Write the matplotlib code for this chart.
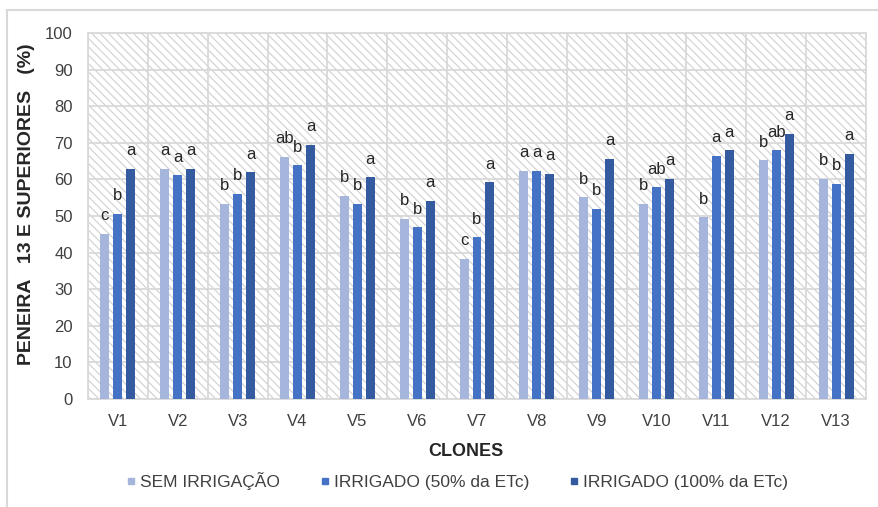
import numpy as np
import matplotlib
matplotlib.use("Agg")
import matplotlib.pyplot as plt
from matplotlib.patches import Rectangle
from matplotlib.lines import Line2D

plt.rcParams["font.family"] = ["Liberation Sans", "DejaVu Sans"]
plt.rcParams["hatch.linewidth"] = 0.8

clones = ["V1", "V2", "V3", "V4", "V5", "V6", "V7", "V8", "V9", "V10", "V11", "V12", "V13"]
series_names = ["SEM IRRIGAÇÃO", "IRRIGADO (50% da ETc)", "IRRIGADO (100% da ETc)"]

sem_irrigacao = [45.1, 62.9, 53.4, 66.2, 55.6, 49.2, 38.3, 62.4, 55.1, 53.3, 49.7, 65.2, 60.2]
irrigado_50 = [50.6, 61.2, 56.1, 63.9, 53.4, 46.9, 44.2, 62.4, 52.0, 57.9, 66.5, 67.9, 58.8]
irrigado_100 = [62.9, 62.9, 62.0, 69.4, 60.6, 54.2, 59.2, 61.5, 65.6, 60.2, 67.9, 72.5, 67.0]

letras_sem = ["c", "a", "b", "ab", "b", "b", "c", "a", "b", "b", "b", "b", "b"]
letras_50 = ["b", "a", "b", "b", "b", "b", "b", "a", "b", "ab", "a", "ab", "b"]
letras_100 = ["a", "a", "a", "a", "a", "a", "a", "a", "a", "a", "a", "a", "a"]

yticks = list(range(0, 101, 10))

colors = ["#A6B5DC", "#4472C4", "#345A9F"]
grid_color = "#D9D9D9"
text_color = "#404040"

W, H = 879, 507
fig = plt.figure(figsize=(W / 100, H / 100), dpi=100)

# outer chart frame
fig.patches.append(Rectangle((7 / W, -0.1), 1.2, 1 - 10 / H + 0.1, transform=fig.transFigure,
                             fill=False, edgecolor=grid_color, linewidth=1.5, zorder=0))

left, right, top, bottom = 88, 866, 33, 399
ax = fig.add_axes([left / W, 1 - bottom / H, (right - left) / W, (bottom - top) / H])

# hatched plot-area background
ax.add_patch(Rectangle((0, 0), 1, 1, transform=ax.transAxes, facecolor="white",
                       edgecolor="#D0D0D0", hatch="\\\\\\\\", linewidth=0, zorder=0.1))

x = np.arange(len(clones))
offset, width = 0.217, 0.15
series = [sem_irrigacao, irrigado_50, irrigado_100]
letters = [letras_sem, letras_50, letras_100]
for i, (vals, lets) in enumerate(zip(series, letters)):
    xs = x + (i - 1) * offset
    ax.bar(xs, vals, width=width, color=colors[i], zorder=3)
    for xi, v, t in zip(xs, vals, lets):
        ax.annotate(t, (xi, v), xytext=(0, 18), textcoords="offset pixels",
                    ha="center", va="center", fontsize=12, color="#262626", zorder=4)

ax.set_xlim(-0.5, len(clones) - 0.5)
ax.set_ylim(0, 100)
ax.set_yticks(yticks)
ax.set_xticks(x)
ax.set_xticklabels(clones)
ax.set_xticks(np.arange(-0.5, len(clones)), minor=True)
ax.tick_params(axis="both", which="both", length=0, labelsize=12, colors=text_color)
ax.tick_params(axis="y", pad=11)
ax.tick_params(axis="x", pad=11)
ax.set_axisbelow(True)
ax.grid(axis="y", which="major", color=grid_color, linewidth=1.3, zorder=0.5)
ax.grid(axis="x", which="minor", color=grid_color, linewidth=1.3, zorder=0.5)
ax.grid(axis="x", which="major", visible=False)
for s in ax.spines.values():
    s.set_color(grid_color)
    s.set_linewidth(1.3)

fig.text(27 / W, 1 - 204 / H, "PENEIRA   13 E SUPERIORES   (%)", rotation=90,
         ha="center", va="center", fontsize=14, fontweight="bold", color="#262626")
fig.text(466 / W, 1 - 451 / H, "CLONES", ha="center", va="center",
         fontsize=13, fontweight="bold", color="#262626")

handles = [Line2D([], [], linestyle="none", marker="s", markersize=5,
                  markerfacecolor=c, markeredgecolor=c) for c in colors]
fig.legend(handles, series_names, loc="center", bbox_to_anchor=(457 / W, 1 - 481 / H),
           ncol=3, frameon=False, fontsize=12.5, handlelength=0.6, handletextpad=0.2,
           columnspacing=2.3, labelcolor=text_color)

fig.savefig("out.png", dpi=100)
